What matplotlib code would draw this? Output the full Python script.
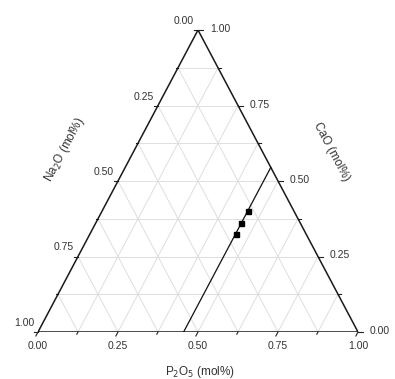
import numpy as np
import matplotlib.pyplot as plt

# data: composition points (mole fractions)
p2o5 = [0.455, 0.455, 0.455]
cao = [0.40, 0.36, 0.325]
# constant P2O5 line
line_p2o5 = 0.455

grid_vals = [0.125, 0.25, 0.375, 0.5, 0.625, 0.75, 0.875]
major_vals = [0.0, 0.25, 0.5, 0.75, 1.0]
minor_vals = [0.125, 0.375, 0.625, 0.875]
tick_labels = ["0.00", "0.25", "0.50", "0.75", "1.00"]

W, H = 395, 379
fig = plt.figure(figsize=(W / 100, H / 100), dpi=100)
# triangle: bottom-left (38,332), bottom-right (358,332), top (198,30) in px
x0, yb, wpx, hpx = 38, 332, 320, 302
ax = fig.add_axes([x0 / W, (H - yb) / H, wpx / W, hpx / H])
ax.set_xlim(0, 1)
ax.set_ylim(0, 1)
ax.axis("off")

plt.rcParams["font.family"] = ["Liberation Sans", "DejaVu Sans"]


def xy(p, c):
    return p + c / 2.0, c


def px(dx, dy):
    # pixel offset -> data offset
    return dx / wpx, dy / hpx


# grid lines
gcol = "#dedede"
for v in grid_vals:
    # constant CaO
    a, b = xy(0, v), xy(1 - v, v)
    ax.plot([a[0], b[0]], [a[1], b[1]], color=gcol, lw=0.7, zorder=1)
    # constant P2O5
    a, b = xy(v, 0), xy(v, 1 - v)
    ax.plot([a[0], b[0]], [a[1], b[1]], color=gcol, lw=0.7, zorder=1)
    # constant Na2O
    a, b = xy(1 - v, 0), xy(0, 1 - v)
    ax.plot([a[0], b[0]], [a[1], b[1]], color=gcol, lw=0.7, zorder=1)

# triangle frame
tri_x = [0, 1, 0.5, 0]
tri_y = [0, 0, 1, 0]
ax.plot(tri_x, tri_y, color="#1a1a1a", lw=1.1, zorder=3, solid_joinstyle="miter")

# ticks
for vals, L in [(major_vals, 4.5), (minor_vals, 2.5)]:
    for v in vals:
        # bottom axis (P2O5), slanted outward
        bx, by = xy(v, 0)
        d = np.array([-160.0, -302.0])
        d = d / np.hypot(*d) * L
        ox, oy = px(*d)
        ax.plot([bx, bx + ox], [by, by + oy], color="#222222", lw=0.8, clip_on=False)
        # left axis (Na2O), horizontal left
        lx, ly = xy(0, 1 - v)
        ox, oy = px(-L, 0)
        ax.plot([lx, lx + ox], [ly, ly + oy], color="#222222", lw=0.8, clip_on=False)
        # right axis (CaO), horizontal right
        rx, ry = xy(1 - v, v)
        ox, oy = px(L, 0)
        ax.plot([rx, rx + ox], [ry, ry + oy], color="#222222", lw=0.8, clip_on=False)

fs = 7.5
tc = "#333333"
for v, lab in zip(major_vals, tick_labels):
    bx, by = xy(v, 0)
    ox, oy = px(0, -14)
    ax.text(bx, by + oy, lab, ha="center", va="center", fontsize=fs, color=tc)
    lx, ly = xy(0, 1 - v)
    ox, oy = px(-4, 9)
    ax.text(lx + ox, ly + oy, lab, ha="right", va="center", fontsize=fs, color=tc)
    rx, ry = xy(1 - v, v)
    ox, oy = px(12, 1)
    ax.text(rx + ox, ry + oy, lab, ha="left", va="center", fontsize=fs, color=tc)

# axis titles
fig.text(200 / W, 1 - 372 / H, "P$_2$O$_5$ (mol%)", ha="center", va="center",
         fontsize=8.5, color=tc)
fig.text(65 / W, 1 - 150 / H, "Na$_2$O (mol%)", ha="center", va="center",
         fontsize=8.5, color=tc, rotation=62, rotation_mode="anchor")
fig.text(331 / W, 1 - 152 / H, "CaO (mol%)", ha="center", va="center",
         fontsize=8.5, color=tc, rotation=-62, rotation_mode="anchor")

# constant P2O5 line
a, b = xy(line_p2o5, 0), xy(line_p2o5, 1 - line_p2o5)
ax.plot([a[0], b[0]], [a[1], b[1]], color="#111111", lw=0.9, zorder=4)

# data points
pts = [xy(p, c) for p, c in zip(p2o5, cao)]
ax.plot([q[0] for q in pts], [q[1] for q in pts], "s", color="black",
        markersize=3.6, zorder=5, clip_on=False)

fig.savefig("out.png", dpi=100)
